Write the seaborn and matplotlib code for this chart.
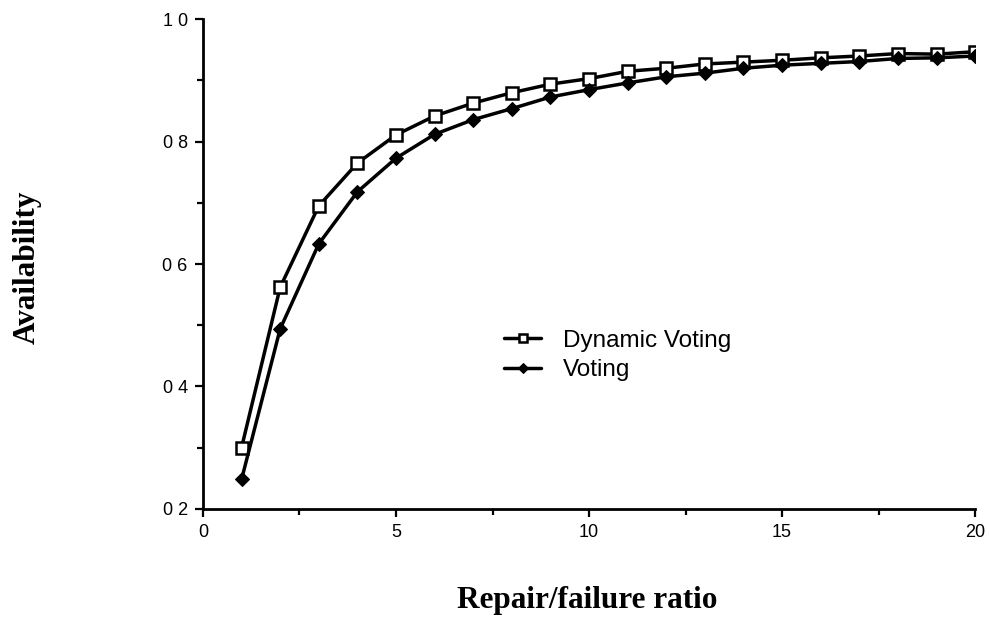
import matplotlib
matplotlib.use("Agg")
import matplotlib.pyplot as plt
import seaborn as sns
import pandas as pd
from matplotlib.ticker import MultipleLocator

ratio = list(range(1, 21))
dynamic_voting = [0.300, 0.562, 0.695, 0.765, 0.811, 0.842, 0.863, 0.880, 0.894, 0.903,
                  0.915, 0.920, 0.927, 0.930, 0.933, 0.937, 0.940, 0.944, 0.943, 0.947]
voting = [0.248, 0.494, 0.633, 0.718, 0.773, 0.812, 0.836, 0.854, 0.873, 0.885,
          0.896, 0.906, 0.912, 0.920, 0.925, 0.928, 0.931, 0.936, 0.937, 0.940]
y_ticks = [0.2, 0.4, 0.6, 0.8, 1.0]
y_tick_labels = ["0 2", "0 4", "0 6", "0 8", "1 0"]
x_ticks = [0, 5, 10, 15, 20]
x_tick_labels = ["0", "5", "10", "15", "20"]

sns.set_theme(style="ticks")
plt.rcParams['font.family'] = ['Liberation Sans', 'DejaVu Sans']
plt.rcParams['text.color'] = 'black'

fig = plt.figure(figsize=(9.9, 6.22), dpi=100)
ax = fig.add_axes([0.205, 0.182, 0.78, 0.787])

df_dyn = pd.DataFrame({"x": ratio, "y": dynamic_voting})
df_vot = pd.DataFrame({"x": ratio, "y": voting})

sns.lineplot(data=df_dyn, x="x", y="y", ax=ax, color="black", linewidth=2.5,
             marker="s", markersize=8, markerfacecolor="white",
             markeredgecolor="black", markeredgewidth=1.8, label="Dynamic Voting")
sns.lineplot(data=df_vot, x="x", y="y", ax=ax, color="black", linewidth=2.5,
             marker="D", markersize=7, markerfacecolor="black",
             markeredgecolor="black", label="Voting")

ax.set_xlim(0, 20)
ax.set_ylim(0.2, 1.0)
ax.set_xticks(x_ticks)
ax.set_xticklabels(x_tick_labels, fontsize=13)
ax.set_yticks(y_ticks)
ax.set_yticklabels(y_tick_labels, fontsize=13)
ax.xaxis.set_minor_locator(MultipleLocator(2.5))
ax.yaxis.set_minor_locator(MultipleLocator(0.1))
ax.tick_params(axis="both", which="major", length=6, width=1.6, direction="out",
               color="black", labelcolor="black", pad=5)
ax.tick_params(axis="both", which="minor", length=4, width=1.6, direction="out", color="black")
for s in ["top", "right"]:
    ax.spines[s].set_visible(False)
for s in ["left", "bottom"]:
    ax.spines[s].set_linewidth(2.0)
    ax.spines[s].set_color("black")

ax.set_xlabel("")
ax.set_ylabel("")
fig.text(0.593, 0.035, "Repair/failure ratio", ha="center", va="center", color="black",
         fontsize=22.5, fontweight="bold", family="Liberation Serif")
fig.text(0.028, 0.57, "Availability", ha="center", va="center", rotation=90, color="black",
         fontsize=22.5, fontweight="bold", family="Liberation Serif")

leg = ax.legend(loc="center left", bbox_to_anchor=(0.362, 0.313), frameon=False,
                fontsize=17.5, handlelength=1.5, handletextpad=0.9, labelspacing=0.3,
                markerscale=0.8, labelcolor="black")

fig.savefig("out.png", dpi=100)
